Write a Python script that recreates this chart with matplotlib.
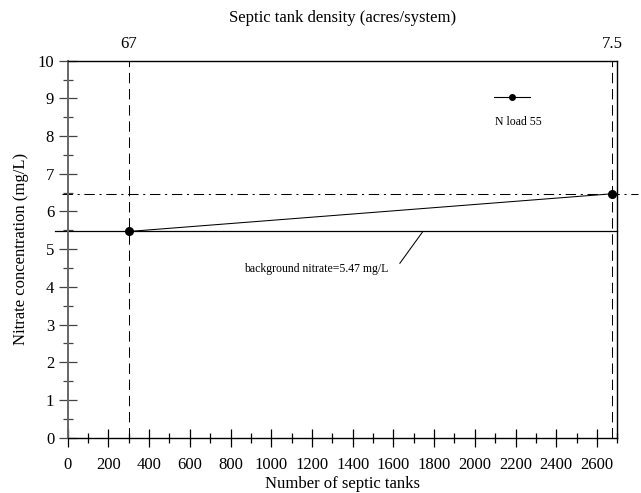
import matplotlib
matplotlib.use("Agg")
import matplotlib.pyplot as plt
from matplotlib.ticker import MultipleLocator
from matplotlib.lines import Line2D

plt.rcParams["font.family"] = ["Liberation Serif", "DejaVu Serif"]

# data
tanks = [300, 2675]               # number of septic tanks
nitrate = [5.47, 6.47]            # mg/L, N load 55
background = 5.47
density_pos = [300, 2675]
density_labels = ["67", "7.5"]
series_label = "N load 55"
note = "background nitrate=5.47 mg/L"

fig = plt.figure(figsize=(6.41, 4.93), dpi=100)
ax = fig.add_axes([0.1056, 0.1122, 0.8574, 0.7647])
ax.set_xlim(0, 2700); ax.set_ylim(0, 10)

# vertical reference lines at the two scenarios
for xv in tanks:
    ax.plot([xv, xv], [0, 10], color="k", lw=0.75, dashes=(10, 5.5))
# background (solid) and max (dash-dot) levels, running slightly past the frame
ax.plot([-60, 2700], [background, background], color="k", lw=0.9, clip_on=False)
ax.plot([-30, 2800], [nitrate[1], nitrate[1]], color="k", lw=0.75,
        dashes=(10, 4.5, 2, 4.5), clip_on=False)
ax.plot(tanks, nitrate, "-o", color="k", lw=0.75, ms=5.5, clip_on=False, zorder=5)

# annotation for background line
ax.annotate(note, xy=(1745, background), xytext=(1220, 4.48), fontsize=8.5,
            ha="center", va="center",
            arrowprops=dict(arrowstyle="-", lw=0.75, color="k", shrinkA=0, shrinkB=0,
                            relpos=(1.08, 0.95)))

# legend sample (handle above text)
ax.add_line(Line2D([0.776, 0.842], [0.9045, 0.9045], color="k", lw=0.8,
                   transform=ax.transAxes))
ax.add_line(Line2D([0.809], [0.9045], marker="o", ms=4, color="k",
                   transform=ax.transAxes))
ax.text(0.82, 0.838, series_label, transform=ax.transAxes, fontsize=8.5,
        ha="center", va="center")

ax.xaxis.set_major_locator(MultipleLocator(200)); ax.xaxis.set_minor_locator(MultipleLocator(100))
ax.yaxis.set_major_locator(MultipleLocator(1)); ax.yaxis.set_minor_locator(MultipleLocator(0.5))
ax.tick_params(which="major", direction="inout", length=12.5, width=0.9, labelsize=12)
ax.tick_params(which="minor", direction="inout", length=6.5, width=0.9)
ax.tick_params(axis="y", which="both", colors="#444444", labelcolor="k")
ax.tick_params(axis="x", pad=8)
ax.spines["left"].set_color("#666666"); ax.spines["left"].set_linewidth(1.4)
for s in ("top", "right", "bottom"):
    ax.spines[s].set_linewidth(1.0)
ax.set_xlabel("Number of septic tanks", fontsize=12, labelpad=2)
ax.set_ylabel("Nitrate concentration (mg/L)", fontsize=12, labelpad=6)

top = ax.twiny()
top.set_xlim(ax.get_xlim())
top.set_xticks(density_pos); top.set_xticklabels(density_labels)
top.tick_params(length=0, labelsize=12, pad=6)
top.set_xlabel("Septic tank density (acres/system)", fontsize=12, labelpad=10)
for s in top.spines.values():
    s.set_visible(False)

fig.savefig("out.png", dpi=100)
